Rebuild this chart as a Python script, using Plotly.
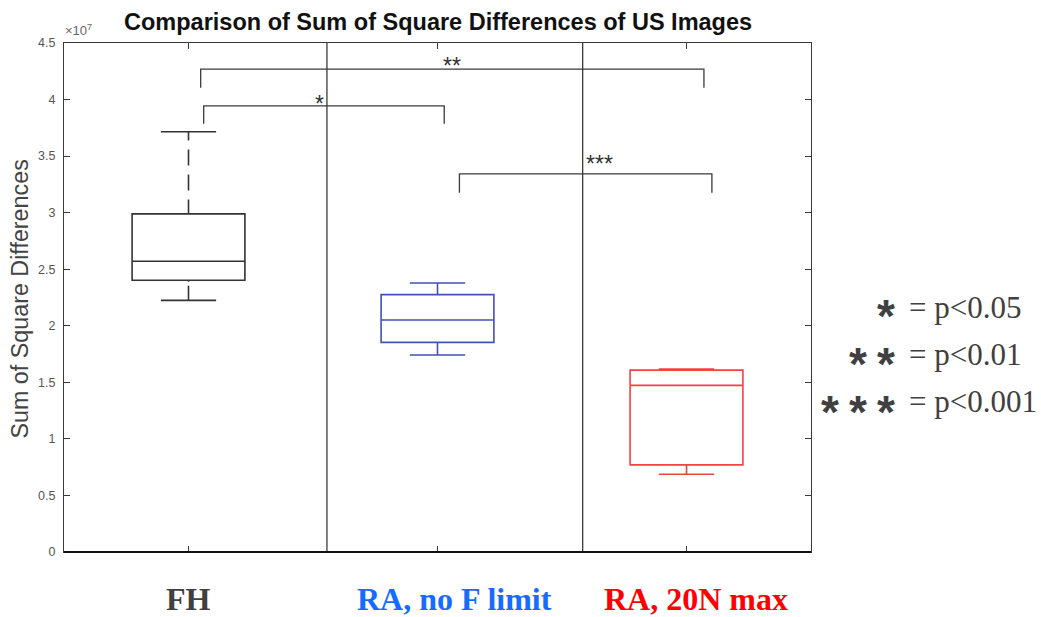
import plotly.graph_objects as go

# ---------------- data (values in SSD units) ----------------
groups = ["FH", "RA, no F limit", "RA, 20N max"]
lower_whisker = [2.225e7, 1.741e7, 0.688e7]
q1_vals = [2.402e7, 1.853e7, 0.770e7]
median_vals = [2.570e7, 2.051e7, 1.473e7]
q3_vals = [2.989e7, 2.275e7, 1.608e7]
upper_whisker = [3.715e7, 2.378e7, 1.617e7]

# significance comparisons
comp_labels = ["*", "**", "***"]
comp_bar_y = [3.945e7, 4.269e7, 3.343e7]
comp_leg_y = [3.786e7, 4.105e7, 3.175e7]
comp_x_left = [1.061, 1.049, 2.088]
comp_x_right = [2.027, 3.070, 3.102]
comp_label_x = [1.525, 2.059, 2.650]
comp_label_y = [4.005e7, 4.341e7, 3.481e7]

legend_stars = ["*", "**", "***"]
legend_texts = ["= p<0.05", "= p<0.01", "= p<0.001"]

y_ticks = [0, 0.5, 1, 1.5, 2, 2.5, 3, 3.5, 4, 4.5]
SCALE = 1e7

# ---------------- styling ----------------
box_colors = ["#333333", "rgb(66,82,178)", "rgb(244,66,66)"]
label_colors = ["#404040", "rgb(22,108,255)", "rgb(255,0,0)"]
AXC = "#3a3a3a"

# plot area in pixels
PL, PR, PT, PB = 64, 811, 43, 552
W, H = PR - PL, PB - PT


def px(x):
    return (x - PL) / W


def py(y):
    return (PB - y) / H


fig = go.Figure()

xs = [1, 2, 3]
for i, g in enumerate(groups):
    fig.add_trace(go.Box(
        x=[xs[i]], name=g,
        q1=[q1_vals[i] / SCALE], median=[median_vals[i] / SCALE],
        q3=[q3_vals[i] / SCALE],
        lowerfence=[lower_whisker[i] / SCALE],
        upperfence=[upper_whisker[i] / SCALE],
        width=0.453, whiskerwidth=0.49,
        line=dict(color=box_colors[i], width=1.6),
        fillcolor="rgba(0,0,0,0)", boxpoints=False,
        hoverinfo="skip", showlegend=False,
    ))

# dashed whiskers for the FH group (MATLAB style) -> white gaps over solid whisker
upx = upper_whisker[0] / SCALE
fig.add_trace(go.Scatter(
    x=[xs[0], xs[0]], y=[upx - 8.7 / (H / 4.5), q3_vals[0] / SCALE],
    mode="lines", line=dict(color="white", width=3.5, dash="9px,16px"),
    hoverinfo="skip", showlegend=False))
fig.add_trace(go.Scatter(
    x=[xs[0], xs[0]], y=[q1_vals[0] / SCALE - 1.4 / (H / 4.5), lower_whisker[0] / SCALE],
    mode="lines", line=dict(color="white", width=3.5, dash="4px,40px"),
    hoverinfo="skip", showlegend=False))

# significance brackets
for i, lab in enumerate(comp_labels):
    fig.add_trace(go.Scatter(
        x=[comp_x_left[i], comp_x_left[i], comp_x_right[i], comp_x_right[i]],
        y=[comp_leg_y[i] / SCALE, comp_bar_y[i] / SCALE, comp_bar_y[i] / SCALE, comp_leg_y[i] / SCALE],
        mode="lines", line=dict(color=AXC, width=1.3),
        hoverinfo="skip", showlegend=False))

annotations = []
for i, lab in enumerate(comp_labels):
    annotations.append(dict(
        x=comp_label_x[i], y=comp_label_y[i] / SCALE, xref="x", yref="y",
        text=lab, showarrow=False, xanchor="center", yanchor="middle",
        yshift=-5.5,
        font=dict(family="Liberation Sans", size=23, color="#333333")))

# divider lines
shapes = []
for xd in [1.556, 2.583]:
    shapes.append(dict(type="line", xref="x", yref="paper", x0=xd, x1=xd, y0=0, y1=1,
                       line=dict(color=AXC, width=1.3), layer="above"))
# bold bottom axis
shapes.append(dict(type="line", xref="paper", yref="paper", x0=0, x1=1, y0=0, y1=0,
                   line=dict(color="#111111", width=2.2), layer="above"))

# title
annotations.append(dict(
    x=0.5, y=py(22), xref="paper", yref="paper", xanchor="center", yanchor="middle",
    text="<b>Comparison of Sum of Square Differences of US Images</b>", showarrow=False,
    font=dict(family="Liberation Sans", size=23.5, color="#111111")))

# exponent
annotations.append(dict(
    x=px(63), y=py(40), xref="paper", yref="paper", xanchor="left", yanchor="bottom",
    text="×10<sup>7</sup>", showarrow=False,
    font=dict(family="Liberation Sans", size=13, color="#666666")))

# y label
annotations.append(dict(
    x=px(19.5), y=py(299), xref="paper", yref="paper", xanchor="center", yanchor="middle",
    text="Sum of Square Differences", textangle=-90, showarrow=False,
    font=dict(family="Liberation Sans", size=23.3, color="#444444")))

# big category labels
label_px = [188, 454, 696]
for i, g in enumerate(groups):
    annotations.append(dict(
        x=px(label_px[i]), y=py(599), xref="paper", yref="paper",
        xanchor="center", yanchor="middle", text="<b>%s</b>" % g, showarrow=False,
        font=dict(family="Liberation Serif", size=32, color=label_colors[i])))

# legend for stars
row_center = [307.8, 354.5, 401.2]
star_center = [310.5, 358, 406.5]
for r in range(3):
    n = len(legend_stars[r])
    for k in range(n):
        cx = 886 - 28 * (n - 1 - k)
        annotations.append(dict(
            x=px(cx), y=py(star_center[r]), xref="paper", yref="paper",
            xanchor="center", yanchor="middle", text="<b>*</b>", showarrow=False,
            yshift=-5.5,
            font=dict(family="Liberation Sans", size=46, color="#404040")))
    annotations.append(dict(
        x=px(906.7), y=py(row_center[r]), xref="paper", yref="paper",
        xanchor="left", yanchor="middle", text=legend_texts[r], showarrow=False,
        font=dict(family="Liberation Serif", size=31, color="#404040")))

fig.update_layout(
    width=1041, height=617,
    margin=dict(l=PL, r=1041 - PR, t=PT, b=617 - PB, pad=0),
    paper_bgcolor="white", plot_bgcolor="white",
    showlegend=False,
    xaxis=dict(range=[0.5, 3.5], tickvals=xs, showticklabels=False,
               ticks="inside", ticklen=6, tickcolor=AXC, tickwidth=1,
               showline=True, linecolor=AXC, linewidth=1.3, mirror="allticks",
               showgrid=False, zeroline=False),
    yaxis=dict(range=[0, 4.5], tickvals=y_ticks, ticktext=[("%g" % t) for t in y_ticks],
               ticks="inside", ticklen=6, tickcolor=AXC, tickwidth=1,
               showline=True, linecolor=AXC, linewidth=1.3, mirror="allticks",
               showgrid=False, zeroline=False, ticklabelstandoff=5,
               tickfont=dict(family="Liberation Sans", size=12.5, color="#555555")),
    annotations=annotations, shapes=shapes,
)

fig.write_html("out.html")
